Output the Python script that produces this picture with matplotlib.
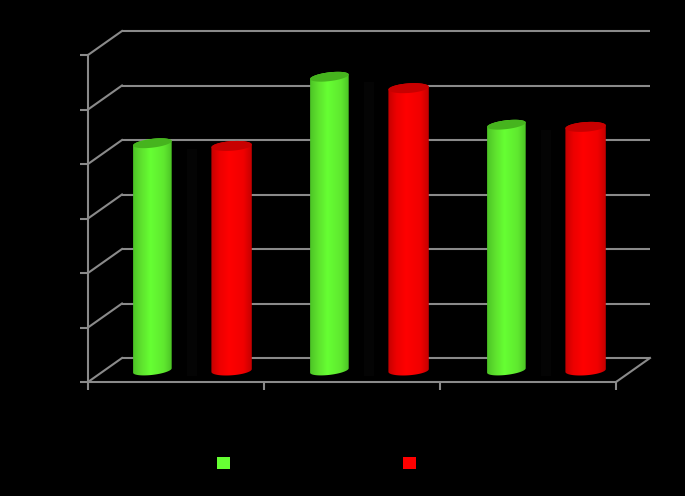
import numpy as np
import matplotlib
matplotlib.use("Agg")
import matplotlib.pyplot as plt
from matplotlib.colors import LinearSegmentedColormap
from matplotlib.patches import Polygon, Rectangle
from matplotlib.transforms import Affine2D, ScaledTranslation

# Values (the value labels are black on black)
green_values = [41.7, 53.9, 45.1]
red_values = [41.2, 51.8, 44.7]
y_ticks = [0, 10, 20, 30, 40, 50, 60]
x_ticks = [0, 1, 2, 3]

W, H, DPI = 685, 496, 100
AX_L, AX_R, AX_T, AX_B = 88, 616, 55, 382
GRAY = "#8a8a8a"
LW = 1.5

fig = plt.figure(figsize=(W / DPI, H / DPI), dpi=DPI, facecolor="black")
ax = fig.add_axes([AX_L / W, 1 - AX_B / H, (AX_R - AX_L) / W, (AX_B - AX_T) / H])
ax.set_facecolor("black")
ax.set_xlim(x_ticks[0], x_ticks[-1])
ax.set_ylim(y_ticks[0], y_ticks[-1])
ax.set_xticks(x_ticks)
ax.set_yticks(y_ticks)
ax.set_xticklabels([])
ax.set_yticklabels([])
ax.tick_params(colors=GRAY, width=LW, length=5.5)
for s in ("top", "right"):
    ax.spines[s].set_visible(False)
for s in ("left", "bottom"):
    ax.spines[s].set_color(GRAY)
    ax.spines[s].set_linewidth(LW)

PX_X = (AX_R - AX_L) / x_ticks[-1]
PX_Y = (AX_B - AX_T) / y_ticks[-1]
DX, DY = 34, 24


def depth(dx_px, dy_px):
    return ax.transData + ScaledTranslation(dx_px / DPI, dy_px / DPI, fig.dpi_scale_trans)


# back wall gridlines and side wall diagonals (data x/y, one end pushed back in depth)
back = depth(DX, DY)
pixel_tf = Affine2D().scale(1, -1).translate(0, H)
for v in y_ticks:
    ax.plot([x_ticks[0], x_ticks[-1]], [v, v], color=GRAY, lw=LW, transform=back, clip_on=False,
            zorder=1, solid_capstyle="butt")
    y_px = AX_B - v * PX_Y
    ax.plot([AX_L, AX_L + DX], [y_px, y_px - DY], color=GRAY, lw=LW, transform=pixel_tf,
            clip_on=False, zorder=1)
ax.plot([AX_R, AX_R + DX], [AX_B, AX_B - DY], color=GRAY, lw=LW, transform=pixel_tf,
        clip_on=False, zorder=1)

green_cmap = LinearSegmentedColormap.from_list(
    "g", [(0, "#4cc426"), (0.2, "#5ee02e"), (0.45, "#66ff33"), (0.8, "#5fe82f"), (1, "#4cc426")])
red_cmap = LinearSegmentedColormap.from_list(
    "r", [(0, "#c40000"), (0.2, "#ec0000"), (0.45, "#ff0000"), (0.8, "#f00000"), (1, "#c40000")])

bar_tf = depth(16, 11.5)
grad = np.linspace(0, 1, 128).reshape(1, -1)


def cylinder(cx, value, half_px, b_px, tilt_px, cmap, cap):
    a = half_px / PX_X
    b = b_px / PX_Y
    tilt = tilt_px / PX_Y
    t_low = np.linspace(np.pi, 2 * np.pi, 40)
    t_up = np.linspace(0, np.pi, 40)
    xs_low = cx + a * np.cos(t_low)
    ys_low = b * np.sin(t_low) + tilt * np.cos(t_low)
    xs_up = cx + a * np.cos(t_up)
    ys_up = value + b * np.sin(t_up) + tilt * np.cos(t_up)
    body = Polygon(np.column_stack([np.r_[xs_low, xs_up], np.r_[ys_low, ys_up]]),
                   closed=True, transform=bar_tf, facecolor="none", edgecolor="none", zorder=3)
    ax.add_patch(body)
    img = ax.imshow(grad, cmap=cmap, aspect="auto", vmin=0, vmax=1, interpolation="bilinear",
                    extent=(cx - a, cx + a, -2 * b, value + 2 * b),
                    transform=bar_tf, zorder=3, clip_on=True)
    img.set_clip_path(body)
    t = np.linspace(0, 2 * np.pi, 80)
    ax.add_patch(Polygon(np.column_stack([cx + a * np.cos(t), value + b * np.sin(t) + tilt * np.cos(t)]),
                         closed=True, transform=bar_tf, facecolor=cap, edgecolor="none", zorder=4))


for i, (gv, rv) in enumerate(zip(green_values, red_values)):
    step = i * 177 / PX_X
    gx, rx = step + 0.275, step + 0.725
    # dark shadow between the two cylinders hides the grid behind it
    ax.add_patch(Rectangle((gx, -1), rx - gx, gv, transform=bar_tf, facecolor="black",
                           edgecolor="none", zorder=2))
    mid = (gx + rx) / 2
    ax.add_patch(Rectangle((mid - 5 / PX_X, -1), 10 / PX_X, gv, transform=bar_tf,
                           facecolor="#040404", edgecolor="none", zorder=2))
    cylinder(gx, gv, 19.3, 4.4, 2.2, green_cmap, "#46b41e")
    cylinder(rx, rv, 20.2, 4.8, 1.4, red_cmap, "#c80000")

ax.set_xlim(x_ticks[0], x_ticks[-1])
ax.set_ylim(y_ticks[0], y_ticks[-1])

# legend swatches (legend text is black on black and cannot be read)
for x0, col in ((217, "#66ff33"), (403, "#ff0000")):
    fig.add_artist(Rectangle((x0 / W, 1 - 469 / H), 13 / W, 12 / H, transform=fig.transFigure,
                             facecolor=col, edgecolor="none"))

fig.savefig("out.png", dpi=DPI, facecolor="black")
